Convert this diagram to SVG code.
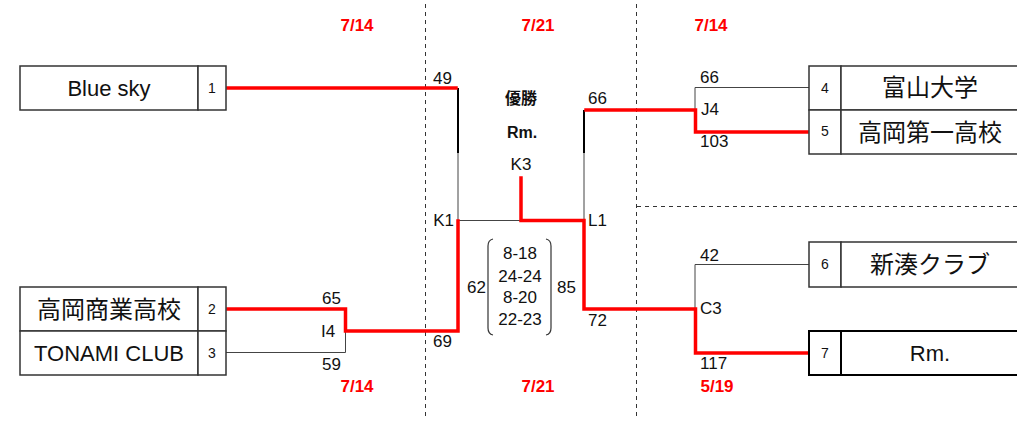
<svg xmlns="http://www.w3.org/2000/svg" width="1017" height="421" viewBox="0 0 1017 421">
<style>
text{font-family:"Liberation Sans","Noto Sans CJK JP",sans-serif;fill:#111}
.name{font-size:22px;text-anchor:middle}
.jp{font-size:24px;text-anchor:middle}
.num{font-size:14px;text-anchor:middle}
.sc{font-size:17px}
.date{font-size:17px;font-weight:bold;fill:#ff0000;text-anchor:middle}
.box{fill:#fff;stroke:#333;stroke-width:1.5}
.red{fill:none;stroke:#ff0000;stroke-width:3.5;stroke-linecap:square}
.thin{fill:none;stroke:#444;stroke-width:1}
.blk{fill:none;stroke:#000;stroke-width:2}
.dash{fill:none;stroke:#333;stroke-width:1;stroke-dasharray:4 4}
</style>
<rect width="1017" height="421" fill="#fff"/>

<g id="guides">
<line class="dash" x1="425.5" y1="4" x2="425.5" y2="418"/>
<line class="dash" x1="636.5" y1="4" x2="636.5" y2="418"/>
<line class="dash" x1="637" y1="206.5" x2="1017" y2="206.5"/>
</g>

<g id="dates">
<text class="date" x="357" y="31">7/14</text>
<text class="date" x="538" y="31">7/21</text>
<text class="date" x="711" y="31">7/14</text>
<text class="date" x="357" y="392">7/14</text>
<text class="date" x="538" y="392">7/21</text>
<text class="date" x="717" y="392">5/19</text>
</g>

<g id="connectors">
<!-- left upper -->
<line class="blk" x1="458" y1="88" x2="458" y2="153"/>
<line class="thin" x1="458" y1="153" x2="458" y2="220"/>
<line class="thin" x1="458" y1="220.5" x2="521" y2="220.5"/>
<!-- I4 -->
<line class="thin" x1="226" y1="352.5" x2="345.5" y2="352.5"/>
<line class="thin" x1="345.5" y1="331" x2="345.5" y2="352.5"/>
<!-- right upper L1 -->
<line class="blk" x1="584" y1="110" x2="584" y2="153"/>
<line class="thin" x1="584" y1="153" x2="584" y2="220"/>
<!-- J4 -->
<line class="thin" x1="695" y1="87.5" x2="809" y2="87.5"/>
<line class="thin" x1="695" y1="87.5" x2="695" y2="110"/>
<!-- C3 -->
<line class="thin" x1="695" y1="264.5" x2="809" y2="264.5"/>
<line class="thin" x1="695" y1="264.5" x2="695" y2="309"/>
<!-- red winning paths -->
<polyline class="red" points="228,88 456,88"/>
<polyline class="red" points="228,309 345.5,309 345.5,331 458,331 458,221"/>
<polyline class="red" points="521,178 521,220.5 584,220.5 584,309 695.5,309 695.5,353 807,353"/>
<polyline class="red" points="586,110 695.5,110 695.5,132 807,132"/>
</g>

<g id="team1">
<rect class="box" x="20" y="66" width="178" height="44"/>
<rect class="box" x="198" y="66" width="28" height="44"/>
<text class="name" x="109" y="96">Blue sky</text>
<text class="num" x="212" y="93">1</text>
</g>
<g id="team2">
<rect class="box" x="20" y="287" width="178" height="44"/>
<rect class="box" x="198" y="287" width="28" height="44"/>
<text class="jp" x="109" y="318">高岡商業高校</text>
<text class="num" x="212" y="314">2</text>
</g>
<g id="team3">
<rect class="box" x="20" y="331" width="178" height="44"/>
<rect class="box" x="198" y="331" width="28" height="44"/>
<text class="name" x="109" y="361">TONAMI CLUB</text>
<text class="num" x="212" y="358">3</text>
</g>
<g id="team4">
<rect class="box" x="809" y="66" width="32" height="44"/>
<rect class="box" x="841" y="66" width="180" height="44"/>
<text class="num" x="825" y="93">4</text>
<text class="jp" x="930" y="96">富山大学</text>
</g>
<g id="team5">
<rect class="box" x="809" y="110" width="32" height="44"/>
<rect class="box" x="841" y="110" width="180" height="44"/>
<text class="num" x="825" y="136">5</text>
<text class="jp" x="930" y="141">高岡第一高校</text>
</g>
<g id="team6">
<rect class="box" x="809" y="242" width="32" height="45"/>
<rect class="box" x="841" y="242" width="180" height="45"/>
<text class="num" x="825" y="269">6</text>
<text class="jp" x="930" y="273">新湊クラブ</text>
</g>
<g id="team7">
<rect class="box" x="809" y="331" width="32" height="44" style="stroke:#000;stroke-width:2"/>
<rect class="box" x="841" y="331" width="180" height="44" style="stroke:#000;stroke-width:2"/>
<text class="num" x="825" y="358">7</text>
<text class="name" x="930" y="361">Rm.</text>
</g>

<g id="champion">
<text x="521" y="104" style="font-size:16px;font-weight:bold;text-anchor:middle">優勝</text>
<text x="522" y="138" style="font-size:16px;font-weight:bold;text-anchor:middle">Rm.</text>
<text class="sc" x="521" y="170" text-anchor="middle">K3</text>
</g>

<g id="scores">
<text class="sc" x="433" y="84">49</text>
<text class="sc" x="588" y="104">66</text>
<text class="sc" x="454" y="226" text-anchor="end">K1</text>
<text class="sc" x="588" y="226">L1</text>
<text class="sc" x="467" y="293">62</text>
<text class="sc" x="557" y="293">85</text>
<text class="sc" x="433" y="347">69</text>
<text class="sc" x="588" y="326">72</text>
<text class="sc" x="322" y="304">65</text>
<text class="sc" x="321" y="337">I4</text>
<text class="sc" x="322" y="370">59</text>
<text class="sc" x="700" y="83">66</text>
<text class="sc" x="701" y="115">J4</text>
<text class="sc" x="700" y="147">103</text>
<text class="sc" x="700" y="261">42</text>
<text class="sc" x="700" y="314">C3</text>
<text class="sc" x="700" y="369">117</text>
</g>

<g id="setscores">
<path d="M493,239 Q488,240 488,246 L488,328 Q488,334 493,335" fill="none" stroke="#333" stroke-width="1.2"/>
<path d="M546,239 Q551,240 551,246 L551,328 Q551,334 546,335" fill="none" stroke="#333" stroke-width="1.2"/>
<text class="sc" x="520" y="259" text-anchor="middle">8-18</text>
<text class="sc" x="520" y="282" text-anchor="middle">24-24</text>
<text class="sc" x="520" y="303" text-anchor="middle">8-20</text>
<text class="sc" x="520" y="325" text-anchor="middle">22-23</text>
</g>
</svg>
